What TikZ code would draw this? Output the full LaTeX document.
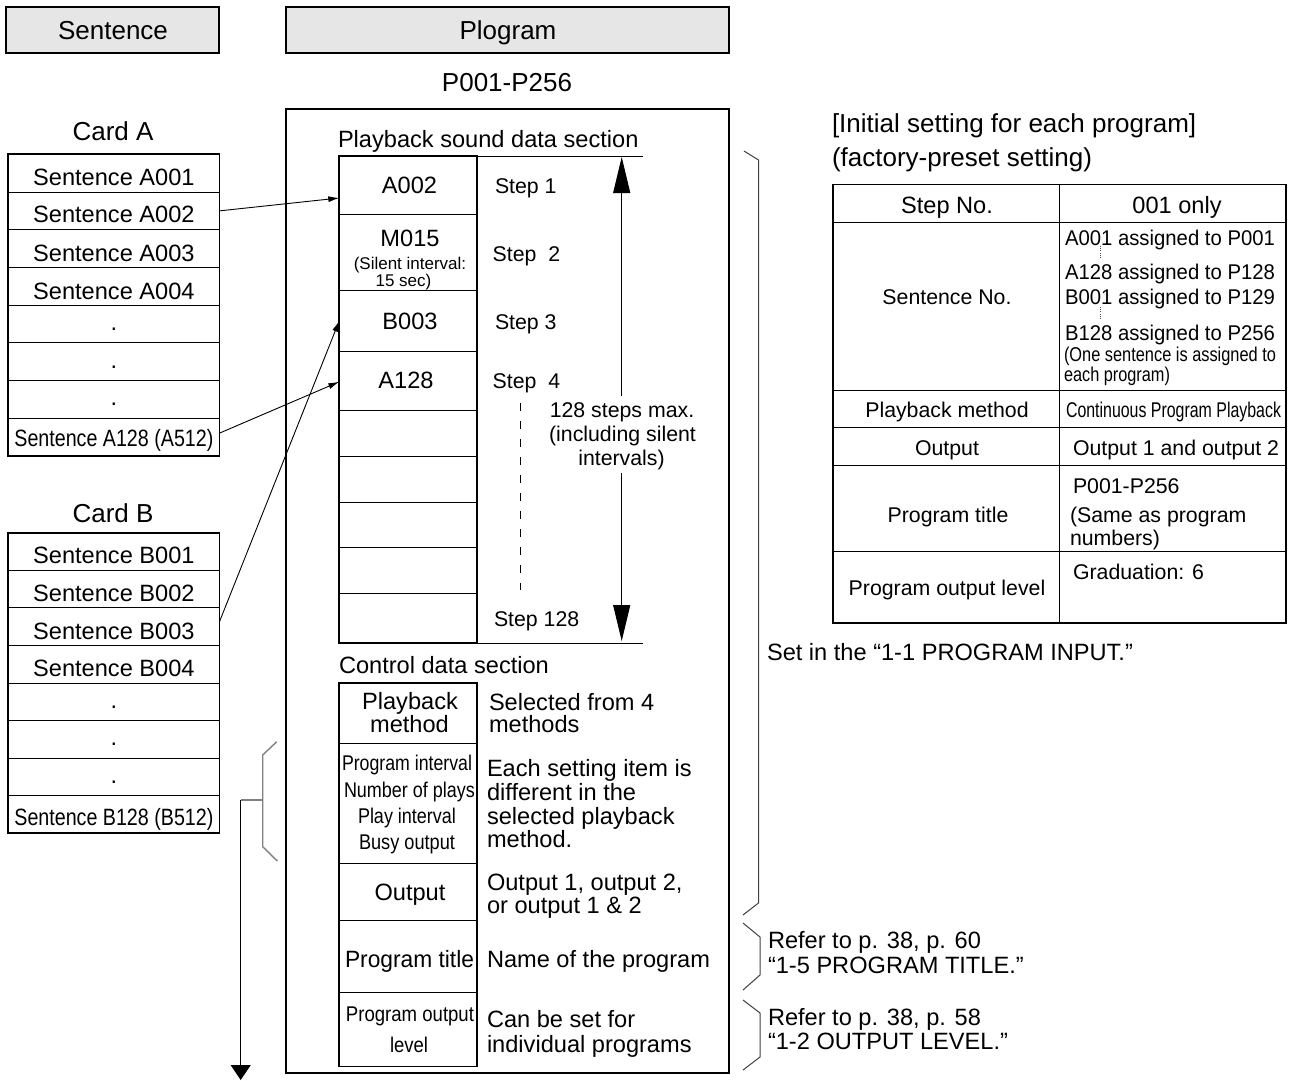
\documentclass[tikz,border=0pt]{standalone}
\usepackage{fontspec}
\setmainfont{Liberation Sans}
\usetikzlibrary{arrows.meta,calc}
\definecolor{hdrgray}{HTML}{E6E6E6}
\newcommand\fitw[2]{\resizebox{#1}{\height}{#2}}
\newcommand\fsA{\fontsize{26}{30}\selectfont}
\newcommand\fsB{\fontsize{23.6}{28}\selectfont}
\newcommand\fsC{\fontsize{21.3}{25}\selectfont}
\newcommand\fsD{\fontsize{17}{20}\selectfont}
\newcommand\fsE{\fontsize{20}{24}\selectfont}
\begin{document}
\begin{tikzpicture}[x=1pt,y=-1pt,
  every node/.style={inner sep=0pt,outer sep=0pt},
  tx/.style={anchor=base},
  txl/.style={anchor=base west},
  cell/.style={draw, line width=0.9pt},
  frame/.style={draw, line width=1.7pt},
  hdr/.style={draw, line width=1.2pt, fill=hdrgray},
  arr/.style={line width=0.9pt, -{Latex[length=11pt,width=6pt]}},
  bigarr/.style={line width=1pt, -{Triangle[length=36pt,width=17pt]}},
  rbrace/.style={line width=1pt, draw=black!75, line join=miter},
  lbrace/.style={line width=1.4pt, draw=black!50},
]
\fill[white] (0,0) rectangle (1290,1080);
\useasboundingbox (0,0) rectangle (1290,1080);

% headers
\node[hdr, minimum width=213pt, minimum height=46pt] (hsent) at (112.5,30) {};
\node[tx, font=\fsA] (hsentt) at (113,39) {Sentence};
\node[hdr, minimum width=443pt, minimum height=46pt] (hprog) at (507.5,30) {};
\node[tx, font=\fsA] (hprogt) at (508,39) {Plogram};
\node[tx, font=\fsA] (pnum) at (507,91) {P001-P256};

% program frame
\node[frame, line width=2pt, minimum width=443pt, minimum height=964pt] (prog) at (507.5,591) {};

% Card A
\node[tx, font=\fsA] (cardA) at (113,140) {Card A};
\foreach \i in {1,...,8}
  \node[cell, minimum width=211.2pt, minimum height=37.71pt] (a\i) at (113.9,{154.3+(\i-0.5)*37.71}) {};
\node[frame, minimum width=211.2pt, minimum height=301.7pt] (cardAf) at (113.9,305.15) {};
\node[tx, font=\fsB] (ta1) at (113.9,185) {Sentence A001};
\node[tx, font=\fsB] (ta2) at (113.9,222.7) {Sentence A002};
\node[tx, font=\fsB] (ta3) at (113.9,261) {Sentence A003};
\node[tx, font=\fsB] (ta4) at (113.9,299) {Sentence A004};
\node[tx, font=\fsB] (ta5) at (113.9,330.5) {.};
\node[tx, font=\fsB] (ta6) at (113.9,368) {.};
\node[tx, font=\fsB] (ta7) at (113.9,405.5) {.};
\node[tx, font=\fsB] (ta8) at (113.9,446.5) {\fitw{199pt}{Sentence A128 (A512)}};

% Card B
\node[tx, font=\fsA] (cardB) at (113,522.7) {Card B};
\foreach \i in {1,...,8}
  \node[cell, minimum width=211.2pt, minimum height=37.575pt] (b\i) at (113.9,{532.7+(\i-0.5)*37.575}) {};
\node[frame, minimum width=211.2pt, minimum height=300.6pt] (cardBf) at (113.9,683) {};
\node[tx, font=\fsB] (tb1) at (113.9,563.3) {Sentence B001};
\node[tx, font=\fsB] (tb2) at (113.9,601) {Sentence B002};
\node[tx, font=\fsB] (tb3) at (113.9,639) {Sentence B003};
\node[tx, font=\fsB] (tb4) at (113.9,676) {Sentence B004};
\node[tx, font=\fsB] (tb5) at (113.9,708) {.};
\node[tx, font=\fsB] (tb6) at (113.9,745.5) {.};
\node[tx, font=\fsB] (tb7) at (113.9,783) {.};
\node[tx, font=\fsB] (tb8) at (113.9,825) {\fitw{199pt}{Sentence B128 (B512)}};

% Playback sound data section
\node[txl, font=\fsB] (psds) at (338,147.5) {Playback sound data section};
\node[cell, minimum width=138pt, minimum height=58pt] (s1) at (408.3,185) {};
\node[cell, minimum width=138pt, minimum height=76.5pt] (s2) at (408.3,252.25) {};
\node[cell, minimum width=138pt, minimum height=60.5pt] (s3) at (408.3,320.75) {};
\node[cell, minimum width=138pt, minimum height=59.5pt] (s4) at (408.3,380.75) {};
\node[cell, minimum width=138pt, minimum height=45.5pt] (s5) at (408.3,433.25) {};
\node[cell, minimum width=138pt, minimum height=46pt] (s6) at (408.3,479) {};
\node[cell, minimum width=138pt, minimum height=45.5pt] (s7) at (408.3,524.75) {};
\node[cell, minimum width=138pt, minimum height=45.5pt] (s8) at (408.3,570.25) {};
\node[cell, minimum width=138pt, minimum height=50pt] (s9) at (408.3,618) {};
\node[frame, minimum width=138pt, minimum height=487pt] (sndf) at (408.3,399.5) {};
\coordinate (tlr) at (643,156);
\coordinate (blr) at (643,643);
\draw[line width=1pt] (sndf.north east) -- (tlr);
\draw[line width=1pt] (sndf.south east) -- (blr);

\node[tx, font=\fsB] (ts1) at (409.5,193.5) {A002};
\node[tx, font=\fsB] (ts2) at (410,246) {M015};
\node[tx, font=\fsD] (ts2b) at (410,269) {(Silent interval:};
\node[tx, font=\fsD] (ts2c) at (403.5,286.5) {15 sec)};
\node[tx, font=\fsB] (ts3) at (410,329.5) {B003};
\node[tx, font=\fsB] (ts4) at (406,388.5) {A128};

\node[txl, font=\fsC] (st1l) at (495,193) {Step 1};
\node[txl, font=\fsC] (st2l) at (492.7,261.7) {Step~~2};
\node[txl, font=\fsC] (st3l) at (495,329) {Step 3};
\node[txl, font=\fsC] (st4l) at (492.7,388) {Step~~4};
\node[txl, font=\fsC] (st128l) at (494,626.5) {Step 128};

\node[tx, font=\fsC] (st1) at (622,417.5) {128 steps max.};
\node[tx, font=\fsC] (st2) at (622.5,441) {(including silent};
\node[tx, font=\fsC] (st3) at (621.5,465) {intervals)};
\coordinate (vtop) at (621.7,157);
\coordinate (vbot) at (621.7,641);
\draw[bigarr] ($(st1.north -| vtop)+(0,-7)$) -- (vtop);
\draw[bigarr] ($(st3.south -| vbot)+(0,4)$) -- (vbot);
\coordinate (d1) at (520.7,403);
\coordinate (d2) at (520.7,590);
\draw[line width=0.8pt, dash pattern=on 8pt off 10pt] (d1) -- (d2);

% arrows from cards
\draw[arr] (a2.east) -- ($(s1.west)+(0,13)$);
\draw[arr] ($(a8.east)+(0,-4)$) -- ($(s4.west)+(0,1)$);
\draw[arr] ($(b3.east)+(0,-5)$) -- (s3.west);

% Control data section
\node[txl, font=\fsB] (cds) at (339,673.5) {Control data section};
\node[cell, minimum width=138pt, minimum height=59.7pt] (c1) at (408.3,713.15) {};
\node[cell, minimum width=138pt, minimum height=120.3pt] (c2) at (408.3,803.15) {};
\node[cell, minimum width=138pt, minimum height=56.7pt] (c3) at (408.3,891.65) {};
\node[cell, minimum width=138pt, minimum height=72.5pt] (c4) at (408.3,956.25) {};
\node[cell, minimum width=138pt, minimum height=74pt] (c5) at (408.3,1029.5) {};
\node[frame, minimum width=138pt, minimum height=383.2pt] (ctlf) at (408.3,874.9) {};

\node[tx, font=\fsB] (tc1a) at (410,709) {Playback};
\node[tx, font=\fsB] (tc1b) at (409.5,732) {method};
\node[tx, font=\fsC] (tc2a) at (407,770) {\fitw{130pt}{Program interval}};
\node[tx, font=\fsC] (tc2b) at (409.5,797) {\fitw{131pt}{Number of plays}};
\node[tx, font=\fsC] (tc2c) at (407,823) {\fitw{98pt}{Play interval}};
\node[tx, font=\fsC] (tc2d) at (407,849) {\fitw{96pt}{Busy output}};
\node[tx, font=\fsB] (tc3) at (410,900) {Output};
\node[tx, font=\fsB] (tc4) at (409.5,967) {\fitw{129pt}{Program title}};
\node[tx, font=\fsC] (tc5a) at (410,1021.5) {\fitw{128pt}{Program output}};
\node[tx, font=\fsC] (tc5b) at (409,1052) {\fitw{38pt}{level}};

\node[txl, font=\fsB] (dc1a) at (489,710) {Selected from 4};
\node[txl, font=\fsB] (dc1b) at (489,732.5) {methods};
\node[txl, font=\fsB] (dc2a) at (487,776) {Each setting item is};
\node[txl, font=\fsB] (dc2b) at (487,800) {different in the};
\node[txl, font=\fsB] (dc2c) at (487,824) {selected playback};
\node[txl, font=\fsB] (dc2d) at (487,847.5) {method.};
\node[txl, font=\fsB] (dc3a) at (487,890) {Output 1, output 2,};
\node[txl, font=\fsB] (dc3b) at (487,913) {or output 1 \& 2};
\node[txl, font=\fsB] (dc4) at (487,967) {Name of the program};
\node[txl, font=\fsB] (dc5a) at (487,1027) {Can be set for};
\node[txl, font=\fsB] (dc5b) at (487,1052) {individual programs};

% braces on the right
\coordinate (br1a) at (744,151); \coordinate (br1b) at (758.5,160);
\coordinate (br1c) at (758.5,903); \coordinate (br1d) at (743,915);
\draw[rbrace] (br1a) -- (br1b) -- (br1c) -- (br1d);
\coordinate (br2a) at (743,923); \coordinate (br2b) at (760,937);
\coordinate (br2c) at (760,975); \coordinate (br2d) at (743,990);
\draw[rbrace] (br2a) -- (br2b) -- (br2c) -- (br2d);
\coordinate (br3a) at (743,1000); \coordinate (br3b) at (760,1013);
\coordinate (br3c) at (760,1057); \coordinate (br3d) at (743,1070);
\draw[rbrace] (br3a) -- (br3b) -- (br3c) -- (br3d);

\node[txl, font=\fsB] (setin) at (767,660.5) {Set in the “1-1 PROGRAM INPUT.”};
\node[txl, font=\fsB] (ref1a) at (768,948) {Refer to p. 38, p. 60};
\node[txl, font=\fsB] (ref1b) at (768,973) {“1-5 PROGRAM TITLE.”};
\node[txl, font=\fsB] (ref2a) at (768,1025) {Refer to p. 38, p. 58};
\node[txl, font=\fsB] (ref2b) at (768,1049) {“1-2 OUTPUT LEVEL.”};

% left bracket with arrow
\coordinate (lb1) at (276.7,741.7); \coordinate (lb2) at (262.7,755);
\coordinate (lb3) at (262.7,846.7); \coordinate (lb4) at (277.3,861);
\coordinate (lbm) at (262.7,800); \coordinate (lba) at (240.7,800);
\coordinate (lbe) at (240.7,1080);
\draw[lbrace] (lb1) -- (lb2) -- (lb3) -- (lb4);
\draw[lbrace] (lbm) -- (lba);
\draw[line width=1pt, -{Triangle[length=15pt,width=20pt]}] (lba) -- (lbe);

% initial setting table
\node[txl, font=\fsA] (init1) at (832,132) {[Initial setting for each program]};
\node[txl, font=\fsA] (init2) at (832,166) {(factory-preset setting)};

\node[cell, minimum width=226.3pt, minimum height=38pt] (r1l) at (945.85,203.5) {};
\node[cell, minimum width=226.3pt, minimum height=167.5pt] (r2l) at (945.85,306.25) {};
\node[cell, minimum width=226.3pt, minimum height=37.7pt] (r3l) at (945.85,408.85) {};
\node[cell, minimum width=226.3pt, minimum height=37.3pt] (r4l) at (945.85,446.35) {};
\node[cell, minimum width=226.3pt, minimum height=86pt] (r5l) at (945.85,508) {};
\node[cell, minimum width=226.3pt, minimum height=72pt] (r6l) at (945.85,587) {};
\node[cell, minimum width=227pt, minimum height=38pt] (r1r) at (1172.5,203.5) {};
\node[cell, minimum width=227pt, minimum height=167.5pt] (r2r) at (1172.5,306.25) {};
\node[cell, minimum width=227pt, minimum height=37.7pt] (r3r) at (1172.5,408.85) {};
\node[cell, minimum width=227pt, minimum height=37.3pt] (r4r) at (1172.5,446.35) {};
\node[cell, minimum width=227pt, minimum height=86pt] (r5r) at (1172.5,508) {};
\node[cell, minimum width=227pt, minimum height=72pt] (r6r) at (1172.5,587) {};
\node[frame, minimum width=453.3pt, minimum height=438.5pt] (tabf) at (1059.35,403.75) {};

\node[tx, font=\fsB] (tr1l) at (947,213) {Step No.};
\node[tx, font=\fsB] (tr1r) at (1177,213) {001 only};
\node[tx, font=\fsC] (tr2l) at (947,304) {Sentence No.};
\node[txl, font=\fsC] (tr2a) at (1065,245) {\fitw{210pt}{A001 assigned to P001}};
\node[txl, font=\fsC] (tr2b) at (1065,279.5) {\fitw{210pt}{A128 assigned to P128}};
\node[txl, font=\fsC] (tr2c) at (1065,304) {\fitw{210pt}{B001 assigned to P129}};
\node[txl, font=\fsC] (tr2d) at (1065,340.7) {\fitw{210pt}{B128 assigned to P256}};
\node[txl, font=\fsE] (tr2e) at (1064,361) {\fitw{212pt}{(One sentence is assigned to}};
\node[txl, font=\fsE] (tr2f) at (1064,381) {\fitw{106pt}{each program)}};
\coordinate (dt1) at (1100.7,246); \coordinate (dt2) at (1100.7,258);
\coordinate (dt3) at (1100.7,307); \coordinate (dt4) at (1100.7,320);
\draw[line width=0.7pt, black!70, dash pattern=on 1pt off 1.2pt] (dt1) -- (dt2);
\draw[line width=0.7pt, black!70, dash pattern=on 1pt off 1.2pt] (dt3) -- (dt4);
\node[tx, font=\fsC] (tr3l) at (947,417) {Playback method};
\node[txl, font=\fsC] (tr3r) at (1066,417) {\fitw{215pt}{Continuous Program Playback}};
\node[tx, font=\fsC] (tr4l) at (947,455) {Output};
\node[txl, font=\fsC] (tr4r) at (1073,455) {Output 1 and output 2};
\node[tx, font=\fsC] (tr5l) at (948,522) {Program title};
\node[txl, font=\fsC] (tr5a) at (1073,493) {P001-P256};
\node[txl, font=\fsC] (tr5b) at (1070,522) {(Same as program};
\node[txl, font=\fsC] (tr5c) at (1070,545) {numbers)};
\node[tx, font=\fsC] (tr6l) at (947,595) {Program output level};
\node[txl, font=\fsC] (tr6r) at (1073,579) {Graduation: 6};
\end{tikzpicture}
\end{document}
